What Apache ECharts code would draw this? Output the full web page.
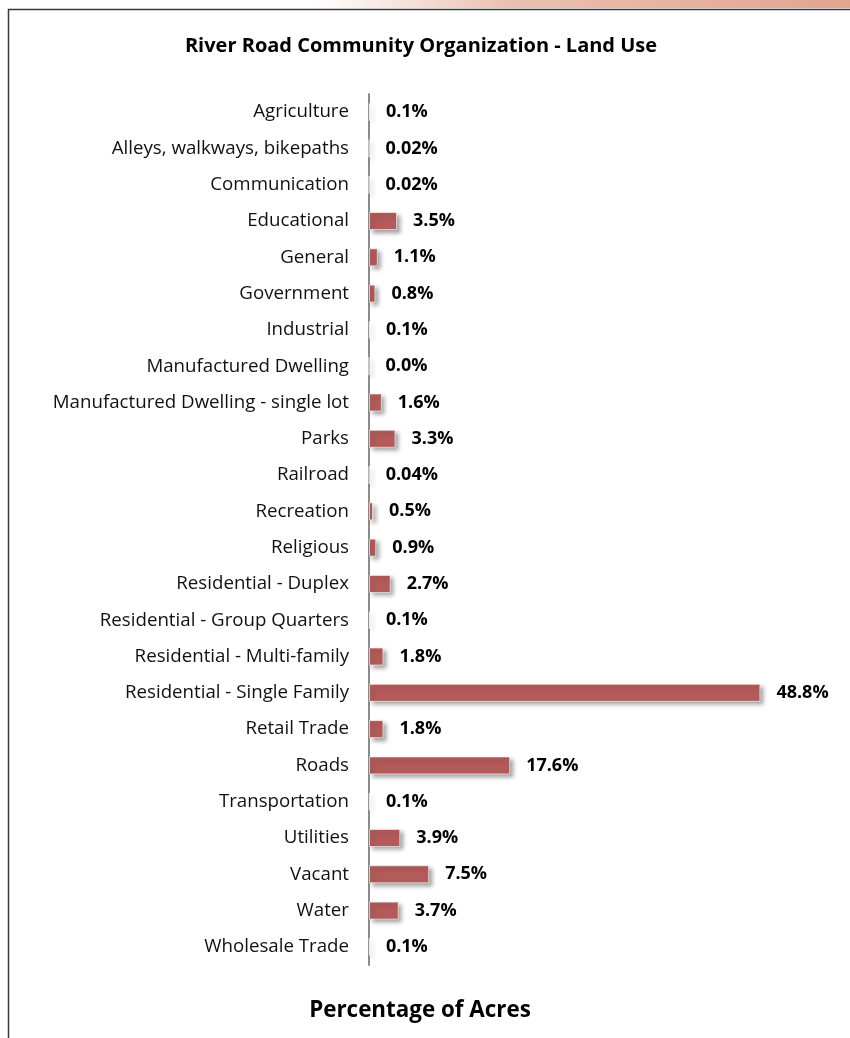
<!DOCTYPE html>
<html>
<head>
<meta charset="utf-8">
<script src="https://cdn.jsdelivr.net/npm/echarts@6/dist/echarts.min.js"></script>
<style>
html,body{margin:0;padding:0;background:#fff;}
#chart{width:850px;height:1038px;}
</style>
</head>
<body>
<div id="chart"></div>
<script>
var categories = [
  "Agriculture",
  "Alleys, walkways, bikepaths",
  "Communication",
  "Educational",
  "General",
  "Government",
  "Industrial",
  "Manufactured Dwelling",
  "Manufactured Dwelling - single lot",
  "Parks",
  "Railroad",
  "Recreation",
  "Religious",
  "Residential - Duplex",
  "Residential - Group Quarters",
  "Residential - Multi-family",
  "Residential - Single Family",
  "Retail Trade",
  "Roads",
  "Transportation",
  "Utilities",
  "Vacant",
  "Water",
  "Wholesale Trade"
];
var percentages = [0.1, 0.02, 0.02, 3.5, 1.1, 0.8, 0.1, 0.0, 1.6, 3.3, 0.04, 0.5, 0.9, 2.7, 0.1, 1.8, 48.8, 1.8, 17.6, 0.1, 3.9, 7.5, 3.7, 0.1];
var chartTitle = "River Road Community Organization - Land Use";
var axisTitle = "Percentage of Acres";

function fmt(v) {
  if (v > 0 && v < 0.1) return v.toFixed(2) + "%";
  return v.toFixed(1) + "%";
}

var chart = echarts.init(document.getElementById('chart'), null, {renderer: 'canvas'});
chart.setOption({
  backgroundColor: '#fff',
  animation: false,
  graphic: [
    {
      type: 'rect', z: -1,
      shape: {x: 0, y: 0, width: 850, height: 8},
      style: {fill: new echarts.graphic.LinearGradient(0, 0, 1, 0, [
        {offset: 0, color: '#ffffff'},
        {offset: 0.37, color: '#ffffff'},
        {offset: 0.6, color: '#ebc0b0'},
        {offset: 1, color: '#e2a590'}
      ])}
    },
    {
      type: 'polyline', z: 10,
      shape: {points: [[8.5, 1038], [8.5, 9.5], [850, 9.5]]},
      style: {stroke: '#3a3a3a', lineWidth: 1.5, fill: null}
    }
  ],
  title: [
    {
      text: chartTitle, left: 416, top: 31, textAlign: 'center',
      textStyle: {fontFamily: 'Open Sans', fontWeight: 'bold', fontSize: 20, color: '#000'}
    },
    {
      text: axisTitle, left: 415, top: 995, textAlign: 'center',
      textStyle: {fontFamily: 'Open Sans', fontWeight: 'bold', fontSize: 22.4, color: '#000'}
    }
  ],
  grid: {left: 369, top: 94, width: 401, height: 871, containLabel: false},
  xAxis: {
    type: 'value', min: 0, max: 50,
    axisLine: {show: false}, axisTick: {show: false},
    axisLabel: {show: false}, splitLine: {show: false}
  },
  yAxis: {
    type: 'category', data: categories, inverse: true,
    axisLine: {show: true, lineStyle: {color: '#8c8c8c', width: 2}},
    axisTick: {show: false},
    axisLabel: {margin: 20, fontFamily: 'Open Sans', fontSize: 18.7, color: '#111'}
  },
  series: [{
    type: 'bar', data: percentages, barWidth: 18,
    itemStyle: {
      color: '#b35a5a', borderColor: 'rgba(255,255,255,0.6)', borderWidth: 1,
      shadowColor: 'rgba(0,0,0,0.35)', shadowBlur: 4, shadowOffsetX: 3, shadowOffsetY: 3
    },
    label: {
      show: true, position: 'right', distance: 16,
      fontFamily: 'Open Sans', fontWeight: 'bold', fontSize: 18, color: '#000',
      formatter: function (p) { return fmt(p.value); }
    }
  }]
});
</script>
</body>
</html>
